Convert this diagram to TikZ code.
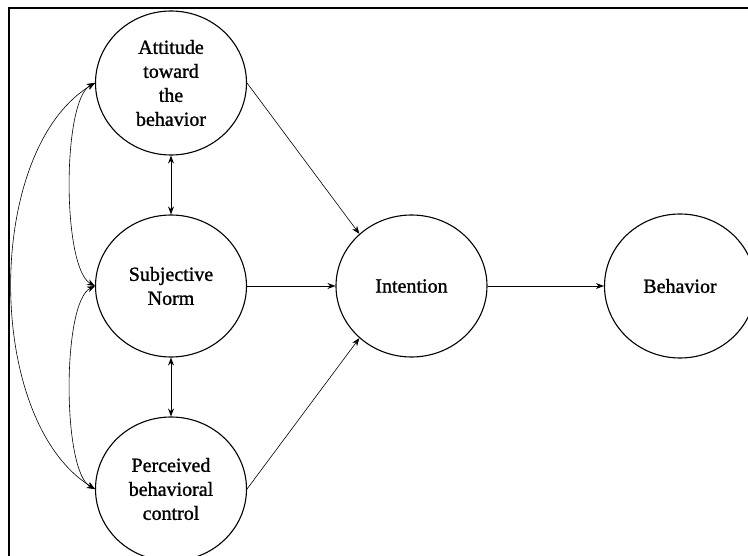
\documentclass[tikz,border=0pt]{standalone}
\usepackage{fontspec}
\setmainfont{Liberation Serif}
\newfontfamily\heavyserif[FakeBold=1.2]{Liberation Serif}
\usetikzlibrary{shapes.geometric,arrows.meta}
\begin{document}
\begin{tikzpicture}[x=1pt,y=-1pt,
  construct/.style={draw, line width=1.1pt, ellipse, minimum width=151pt, minimum height=144pt, inner sep=0pt, align=center, font=\heavyserif\fontsize{20}{24}\selectfont},
  link/.style={line width=0.9pt, -{Stealth[length=8pt,width=6pt]}},
  thinlink/.style={line width=0.6pt, -{Stealth[length=8pt,width=6pt]}},
  bothlink/.style={line width=1pt, {Stealth[length=8pt,width=6pt]}-{Stealth[length=8pt,width=6pt]}},
  curvelink/.style={line width=0.6pt, {Stealth[length=8pt,width=6pt]}-{Stealth[length=8pt,width=6pt]}}]
\useasboundingbox (0,0) rectangle (748,556);
\clip (0,0) rectangle (748,556);
\fill[white] (0,0) rectangle (748,556);
\draw[line width=1.6pt] (9,8) rectangle (770,580);

\node[construct] (att) at (171,83) {Attitude\\toward\\the\\behavior};
\node[construct, minimum height=142pt] (sn) at (171,286) {Subjective\\Norm};
\node[construct] (pbc) at (171,489) {Perceived\\behavioral\\control};
\node[construct, minimum height=142pt] (int) at (411.5,286) {Intention};
\node[construct, minimum height=144pt] (beh) at (680,286) {Behavior};

\draw[thinlink] (att.east) -- (int.135);
\draw[link] (sn.east) -- (int.west);
\draw[thinlink] (pbc.east) -- (int.225);
\draw[link] (int.east) -- (beh.west);

\draw[bothlink] (att.south) -- (sn.north);
\draw[bothlink] (sn.south) -- (pbc.north);

\draw[curvelink] (att.west) .. controls (62,100) and (62,268) .. (sn.west);
\draw[curvelink] (sn.west) .. controls (62,302) and (62,472) .. (pbc.west);
\draw[curvelink] (att.west) .. controls (-16,150) and (-16,420) .. (pbc.west);
\end{tikzpicture}
\end{document}
